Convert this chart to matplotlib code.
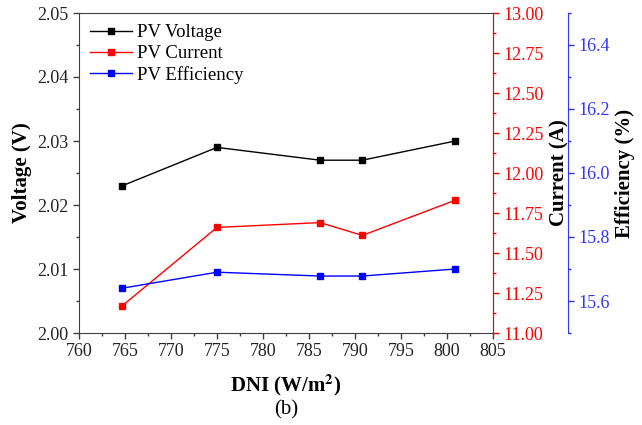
import matplotlib.pyplot as plt
from matplotlib.ticker import MultipleLocator
from matplotlib.lines import Line2D

plt.rcParams['font.family'] = ['Liberation Serif', 'DejaVu Serif']
plt.rcParams['mathtext.fontset'] = 'stix'

dni = [764.7, 775.0, 786.2, 790.8, 800.9]
voltage = [2.023, 2.029, 2.027, 2.027, 2.030]
current = [11.17, 11.66, 11.69, 11.61, 11.83]
efficiency = [15.64, 15.69, 15.678, 15.678, 15.70]

fig = plt.figure(figsize=(6.42, 4.25), dpi=100)
ax = fig.add_axes([79 / 642, 1 - 333 / 425, 414 / 642, 320 / 425])
ax2 = ax.twinx()
ax3 = ax.twinx()
ax3.spines['right'].set_position(('outward', 54))

ax.plot(dni, voltage, color='black', marker='s', ms=5, lw=1)
ax2.plot(dni, current, color='red', marker='s', ms=5, lw=1)
ax3.plot(dni, efficiency, color='blue', marker='s', ms=5, lw=1)

ax.set_xlim(760, 805)
ax.set_ylim(2.00, 2.05)
ax2.set_ylim(11.0, 13.0)
ax3.set_ylim(15.5, 16.5)

ax.xaxis.set_major_locator(MultipleLocator(5))
ax.xaxis.set_minor_locator(MultipleLocator(2.5))
ax.yaxis.set_major_locator(MultipleLocator(0.01))
ax.yaxis.set_minor_locator(MultipleLocator(0.005))
ax.yaxis.set_major_formatter(plt.FormatStrFormatter('%.2f'))
ax2.yaxis.set_major_locator(MultipleLocator(0.25))
ax2.yaxis.set_minor_locator(MultipleLocator(0.125))
ax2.yaxis.set_major_formatter(plt.FormatStrFormatter('%.2f'))
ax3.yaxis.set_major_locator(MultipleLocator(0.2))
ax3.yaxis.set_minor_locator(MultipleLocator(0.1))
ax3.yaxis.set_major_formatter(plt.FormatStrFormatter('%.1f'))

for a in (ax, ax2, ax3):
    a.tick_params(which='major', direction='out', length=4, width=1, labelsize=13)
    a.tick_params(which='minor', direction='out', length=2.5, width=1)

grey = '#404040'
for s in ax.spines.values():
    s.set_color(grey)
ax.tick_params(which='both', colors=grey, labelcolor='#222222')

ax2.spines['right'].set_color('red')
ax2.tick_params(axis='y', which='both', colors='red')
ax3.spines['right'].set_color('#3333ff')
ax3.tick_params(axis='y', which='both', colors='#3333ff')
for a in (ax2, ax3):
    a.spines['left'].set_visible(False)
    a.spines['top'].set_visible(False)
    a.spines['bottom'].set_visible(False)

ax.set_ylabel('Voltage (V)', fontsize=15, fontweight='bold', labelpad=4)
ax2.set_ylabel('Current (A)', fontsize=15, fontweight='bold', labelpad=4)
ax3.set_ylabel('Efficiency (%)', fontsize=15, fontweight='bold', labelpad=4)
ax.set_xlabel('DNI (W/m$^\\mathbf{2}$)', fontsize=15, fontweight='bold', labelpad=9)
fig.text(286 / 642, 1 - 410 / 425, '(b)', ha='center', va='center', fontsize=15)

handles = [
    Line2D([], [], color='black', marker='s', ms=5, lw=1),
    Line2D([], [], color='red', marker='s', ms=5, lw=1),
    Line2D([], [], color='blue', marker='s', ms=5, lw=1),
]
ax.legend(handles, ['PV Voltage', 'PV Current', 'PV Efficiency'], loc='upper left',
          frameon=False, fontsize=13.5, handlelength=2.2, labelspacing=0.2,
          borderaxespad=0.2, handletextpad=0.3)

fig.savefig('out.png', dpi=100)
